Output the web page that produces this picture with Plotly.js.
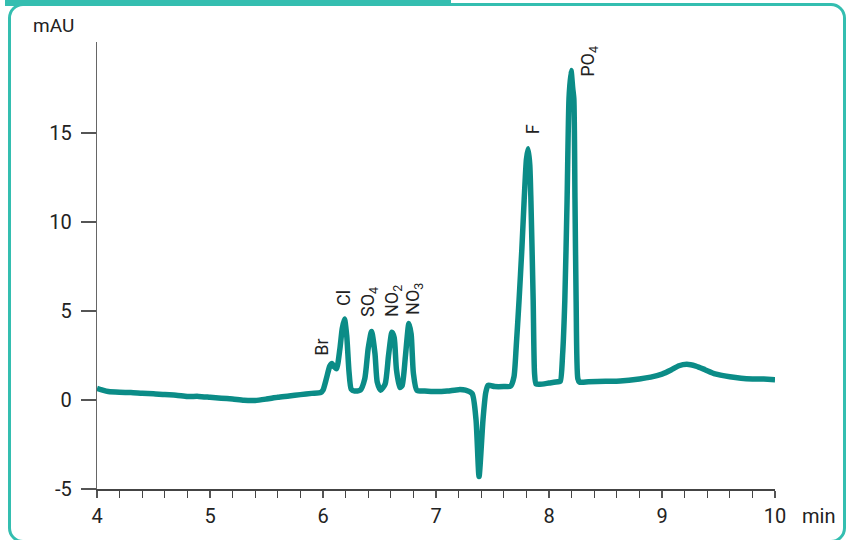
<!DOCTYPE html>
<html>
<head>
<meta charset="utf-8">
<script src="https://cdn.plot.ly/plotly-3.0.1.min.js"></script>
<style>
  html, body { margin: 0; padding: 0; background: #ffffff; }
  #wrap { position: relative; width: 852px; height: 540px; overflow: hidden; }
  #frame {
    position: absolute; left: 8px; top: 3px; width: 838px; height: 540px;
    border: 3px solid #34beb0; border-radius: 15px; box-sizing: border-box;
  }
  #tab { position: absolute; left: 5px; top: 0; width: 446px; height: 6px; background: #34beb0; }
  #chart { position: absolute; left: 0; top: 0; width: 852px; height: 540px; }
</style>
</head>
<body>
<div id="wrap">
  <div id="frame"></div>
  <div id="tab"></div>
  <div id="chart"></div>
</div>
<script>
// Ion chromatogram: retention time (min) vs. detector signal (mAU)
const timeMin = [
  4.00, 4.05, 4.10, 4.20, 4.30, 4.40, 4.50, 4.60, 4.70, 4.80, 4.90, 5.00,
  5.10, 5.20, 5.30, 5.40, 5.50, 5.60, 5.70, 5.80, 5.90, 5.98,
  6.00, 6.03, 6.06, 6.08, 6.10, 6.12, 6.15, 6.17, 6.19, 6.21, 6.23, 6.25,
  6.28, 6.33, 6.37, 6.40, 6.43, 6.46, 6.48, 6.51, 6.55, 6.58, 6.61, 6.63,
  6.65, 6.68, 6.70, 6.73, 6.76, 6.78, 6.80, 6.83, 6.90, 7.00, 7.10, 7.20,
  7.26, 7.32, 7.354, 7.381, 7.416, 7.44, 7.46, 7.52, 7.60, 7.66,
  7.69, 7.71, 7.735, 7.76, 7.78, 7.80, 7.815, 7.83, 7.84, 7.86, 7.872, 7.885,
  7.92, 8.00, 8.08, 8.10, 8.12, 8.14, 8.16, 8.177, 8.195, 8.21, 8.22, 8.23,
  8.24, 8.255, 8.27, 8.35, 8.50, 8.63, 8.80, 8.90, 9.00, 9.08, 9.15, 9.22,
  9.30, 9.38, 9.47, 9.60, 9.70, 9.80, 9.90, 10.00
];
const signalMAU = [
  0.65, 0.55, 0.47, 0.43, 0.42, 0.38, 0.35, 0.30, 0.27, 0.20, 0.20, 0.15,
  0.10, 0.05, -0.02, -0.03, 0.05, 0.15, 0.22, 0.30, 0.37, 0.42,
  0.55, 1.20, 1.90, 2.05, 1.85, 1.75, 2.90, 4.00, 4.55, 3.60, 1.60, 0.60,
  0.50, 0.55, 1.20, 2.90, 3.85, 2.60, 1.00, 0.55, 0.90, 2.50, 3.80, 3.50,
  1.70, 0.70, 0.80, 2.50, 4.30, 3.70, 1.50, 0.55, 0.50, 0.47, 0.50, 0.58,
  0.55, 0.35, -1.10, -4.30, -1.10, 0.40, 0.82, 0.75, 0.75, 0.78,
  1.30, 3.00, 5.60, 8.50, 11.20, 13.50, 14.10, 13.20, 11.20, 5.60, 1.50, 0.90,
  0.88, 0.95, 1.02, 1.05, 2.50, 5.60, 11.20, 16.90, 18.50, 17.50, 16.90, 11.20,
  5.60, 1.20, 1.00, 1.02, 1.05, 1.07, 1.18, 1.28, 1.45, 1.68, 1.92, 2.00,
  1.90, 1.70, 1.46, 1.30, 1.22, 1.18, 1.17, 1.14
];

// Peak labels (ion name, label centre in data units)
const peakNames = ['Br', 'Cl', 'SO<sub>4</sub>', 'NO<sub>2</sub>', 'NO<sub>3</sub>', 'F', 'PO<sub>4</sub>'];
const peakLabelX = [5.99, 6.186, 6.407, 6.62, 6.805, 7.85, 8.354];
const peakLabelY = [2.98, 5.73, 5.5, 5.56, 5.67, 15.2, 18.99];

const yTicks = [-5, 0, 5, 10, 15];
const xTicks = [4, 5, 6, 7, 8, 9, 10];

const FONT = 'Roboto, sans-serif';
const INK = '#222222';

const trace = {
  x: timeMin,
  y: signalMAU,
  type: 'scatter',
  mode: 'lines',
  line: { color: '#0b8c87', width: 5.5, shape: 'spline', smoothing: 0.6 },
  hoverinfo: 'skip'
};

const W = 852, H = 540, L = 97, R = 77, T = 42, B = 51;
const pw = W - L - R, ph = H - T - B;

const annotations = peakNames.map((name, i) => ({
  x: peakLabelX[i], y: peakLabelY[i], xref: 'x', yref: 'y',
  text: name, showarrow: false, textangle: -90,
  xanchor: 'center', yanchor: 'middle',
  font: { family: FONT, size: 18, color: INK }
}));
// Axis-unit captions, positioned in page pixels
annotations.push({
  x: (53 - L) / pw, y: (H - B - 26) / ph, xref: 'paper', yref: 'paper',
  text: 'mAU', showarrow: false, xanchor: 'center', yanchor: 'middle',
  font: { family: FONT, size: 19, color: INK }
});
annotations.push({
  x: (818 - L) / pw, y: (H - B - 516) / ph, xref: 'paper', yref: 'paper',
  text: 'min', showarrow: false, xanchor: 'center', yanchor: 'middle',
  font: { family: FONT, size: 20, color: INK }
});

const layout = {
  width: W, height: H,
  margin: { l: L, r: R, t: T, b: B, pad: 0 },
  paper_bgcolor: 'rgba(0,0,0,0)',
  plot_bgcolor: 'rgba(0,0,0,0)',
  showlegend: false,
  font: { family: FONT, size: 20, color: INK },
  xaxis: {
    range: [4, 10],
    tickvals: xTicks,
    ticktext: xTicks.map(String),
    ticks: 'outside', ticklen: 7, tickwidth: 1.2, tickcolor: '#555',
    showline: true, linecolor: '#444', linewidth: 1.5,
    showgrid: false, zeroline: false,
    ticklabelstandoff: 1,
    minor: { dtick: 0.2, ticks: 'outside', ticklen: 7, tickwidth: 1.2, tickcolor: '#444', showgrid: false },
    tickfont: { family: FONT, size: 20, color: INK }
  },
  yaxis: {
    range: [-5, 20.1],
    tickvals: yTicks,
    ticktext: yTicks.map(String),
    ticks: 'outside', ticklen: 15, tickwidth: 1.5, tickcolor: '#555',
    showline: true, linecolor: '#666', linewidth: 1.2,
    showgrid: false, zeroline: false,
    ticklabelstandoff: 5,
    tickfont: { family: FONT, size: 20, color: INK }
  },
  annotations: annotations
};

Plotly.newPlot('chart', [trace], layout, { staticPlot: true, displayModeBar: false });
</script>
</body>
</html>
